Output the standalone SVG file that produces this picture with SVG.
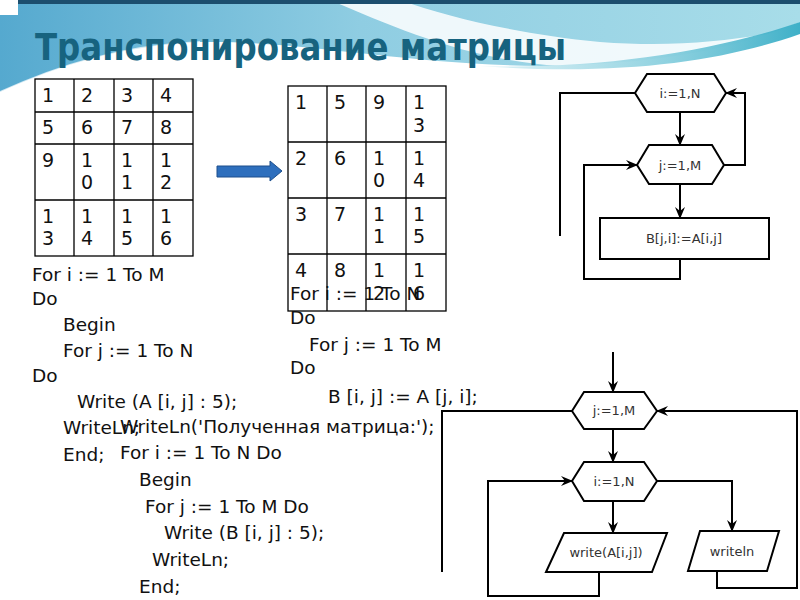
<svg xmlns="http://www.w3.org/2000/svg" width="800" height="600" viewBox="0 0 800 600">
<defs>
<linearGradient id="topg" x1="0" y1="0" x2="1" y2="0">
<stop offset="0" stop-color="#55a9cf"/>
<stop offset="0.45" stop-color="#8fcde2"/>
<stop offset="1" stop-color="#a8dde9"/>
</linearGradient>
<linearGradient id="teal" x1="0" y1="0" x2="1" y2="0">
<stop offset="0" stop-color="#8fd3e2" stop-opacity="0.3"/>
<stop offset="1" stop-color="#3fb0c8"/>
</linearGradient>
<marker id="ah" viewBox="0 0 12 10" refX="11" refY="5" markerWidth="12" markerHeight="10" markerUnits="userSpaceOnUse" orient="auto">
<path d="M0,0 L12,5 L0,10 L4,5 Z" fill="#000"/>
</marker>
<style>
.cell{fill:none;stroke:#000;stroke-width:1.3}
.num{font-family:"DejaVu Sans","Noto Sans",sans-serif;font-size:19px;fill:#111}
.code{font-family:"DejaVu Sans","Noto Sans",sans-serif;font-size:18.5px;fill:#111}
.shape{fill:#fff;stroke:#000;stroke-width:2}
.lbl{font-family:"DejaVu Sans","Noto Sans",sans-serif;font-size:13px;fill:#333;text-anchor:middle}
.con{fill:none;stroke:#000;stroke-width:2}
</style>
</defs>
<rect width="800" height="600" fill="#ffffff"/>
<!-- background header -->
<path d="M0,0 H800 V22 C720,55 640,64 540,66 C400,64 300,40 200,42 C120,46 60,65 0,92 Z" fill="url(#topg)"/>
<path d="M330,0 H400 C450,18 520,34 600,42 C680,48 740,40 800,28 V40 C730,62 640,70 560,66 C470,60 400,30 330,0 Z" fill="#ffffff" opacity="0.85"/>
<path d="M480,66 C600,70 720,50 800,22 V34 C720,62 620,76 480,66 Z" fill="url(#teal)"/>
<path d="M0,0 H800 V4 H0 Z" fill="#1c4e6e"/>
<rect x="0" y="0" width="18" height="15" fill="#ffffff"/>
<path d="M0,92 C60,65 120,46 200,42" fill="none" stroke="#ffffff" stroke-width="2" opacity="0.7"/>
<!-- title -->
<text id="title" x="35" y="60" font-family="DejaVu Sans Condensed, DejaVu Sans, sans-serif" font-weight="bold" font-size="38" fill="#17637f" textLength="531" lengthAdjust="spacingAndGlyphs">Транспонирование матрицы</text>

<!-- Matrix A -->
<g id="matrixA">
<rect class="cell" x="35" y="79" width="158" height="177"/>
<path class="cell" d="M74,79V256M114,79V256M153,79V256M35,112H193M35,144H193M35,200H193"/>
<text class="num" x="42" y="102">1</text><text class="num" x="81" y="102">2</text><text class="num" x="121" y="102">3</text><text class="num" x="160" y="102">4</text>
<text class="num" x="42" y="134">5</text><text class="num" x="81" y="134">6</text><text class="num" x="121" y="134">7</text><text class="num" x="160" y="134">8</text>
<text class="num" x="42" y="167">9</text>
<text class="num" x="81" y="167">1</text><text class="num" x="81" y="189">0</text>
<text class="num" x="121" y="167">1</text><text class="num" x="121" y="189">1</text>
<text class="num" x="160" y="167">1</text><text class="num" x="160" y="189">2</text>
<text class="num" x="42" y="223">1</text><text class="num" x="42" y="245">3</text>
<text class="num" x="81" y="223">1</text><text class="num" x="81" y="245">4</text>
<text class="num" x="121" y="223">1</text><text class="num" x="121" y="245">5</text>
<text class="num" x="160" y="223">1</text><text class="num" x="160" y="245">6</text>
</g>

<!-- block arrow -->
<g id="bigArrow">
<path d="M217,166 H270 V161 L282,171 L270,181 V177 H217 Z" fill="#2e6fbd" stroke="#1d4f8c" stroke-width="1"/>
</g>

<!-- Matrix B -->
<g id="matrixB">
<rect class="cell" x="288" y="86" width="158" height="225"/>
<path class="cell" d="M327,86V311M366,86V311M406,86V311M288,142H446M288,198H446M288,254H446"/>
<text class="num" x="295" y="109">1</text><text class="num" x="334" y="109">5</text><text class="num" x="373" y="109">9</text>
<text class="num" x="413" y="109">1</text><text class="num" x="413" y="132">3</text>
<text class="num" x="295" y="165">2</text><text class="num" x="334" y="165">6</text>
<text class="num" x="373" y="165">1</text><text class="num" x="373" y="187">0</text>
<text class="num" x="413" y="165">1</text><text class="num" x="413" y="187">4</text>
<text class="num" x="295" y="221">3</text><text class="num" x="334" y="221">7</text>
<text class="num" x="373" y="221">1</text><text class="num" x="373" y="243">1</text>
<text class="num" x="413" y="221">1</text><text class="num" x="413" y="243">5</text>
<text class="num" x="295" y="277">4</text><text class="num" x="334" y="277">8</text>
<text class="num" x="373" y="277">1</text><text class="num" x="373" y="300">2</text>
<text class="num" x="413" y="277">1</text><text class="num" x="413" y="300">6</text>
</g>

<!-- code 1 -->
<g id="code1">
<text class="code" x="32" y="281">For i := 1 To M</text>
<text class="code" x="32" y="305">Do</text>
<text class="code" x="63" y="331">Begin</text>
<text class="code" x="63" y="357">For j := 1 To N</text>
<text class="code" x="32" y="382">Do</text>
<text class="code" x="77" y="408">Write (A [i, j] : 5);</text>
<text class="code" x="63" y="434">WriteLn;</text>
<text class="code" x="63" y="461">End;</text>
</g>
<!-- code 2 -->
<g id="code2">
<text class="code" x="290" y="300">For i := 1 To N</text>
<text class="code" x="290" y="324">Do</text>
<text class="code" x="309" y="351">For j := 1 To M</text>
<text class="code" x="290" y="374">Do</text>
<text class="code" x="328" y="403">B [i, j] := A [j, i];</text>
</g>
<!-- code 3 -->
<g id="code3">
<text class="code" x="120" y="433">WriteLn('Полученная матрица:');</text>
<text class="code" x="120" y="459">For i := 1 To N Do</text>
<text class="code" x="139" y="486">Begin</text>
<text class="code" x="145" y="513">For j := 1 To M Do</text>
<text class="code" x="164" y="539">Write (B [i, j] : 5);</text>
<text class="code" x="152" y="566">WriteLn;</text>
<text class="code" x="139" y="593">End;</text>
</g>

<!-- flowchart 1 -->
<g id="f1-loopI">
<polygon class="shape" points="635,93 647,74 714,74 726,93 714,112 647,112"/>
<text class="lbl" x="680" y="98">i:=1,N</text>
</g>
<g id="f1-loopJ">
<polygon class="shape" points="637,165 649,145 712,145 724,165 712,184 649,184"/>
<text class="lbl" x="680" y="170">j:=1,M</text>
</g>
<g id="f1-assign">
<rect class="shape" x="600" y="218" width="169" height="41"/>
<text class="lbl" x="684" y="243">B[j,i]:=A[i,j]</text>
</g>

<!-- flowchart 2 -->
<g id="f2-loopJ">
<polygon class="shape" points="572,411 584,392 644,392 657,411 644,429 584,429"/>
<text class="lbl" x="614" y="415">j:=1,M</text>
</g>
<g id="f2-loopI">
<polygon class="shape" points="572,481 584,462 644,462 657,481 644,501 584,501"/>
<text class="lbl" x="614" y="486">i:=1,N</text>
</g>
<g id="f2-write">
<polygon class="shape" points="564,533 667,533 652,572 546,572"/>
<text class="lbl" x="606" y="557">write(A[i,j])</text>
</g>
<g id="f2-writeln">
<polygon class="shape" points="700,531 779,531 767,571 688,571"/>
<text class="lbl" x="732" y="556">writeln</text>
</g>

<g id="connectors">
<path class="con" d="M680,112 V145" marker-end="url(#ah)"/>
<path class="con" d="M680,184 V218" marker-end="url(#ah)"/>
<path class="con" d="M680,259 V279 H584 V165 H637" marker-end="url(#ah)"/>
<path class="con" d="M724,165 H745 V93 H726" marker-end="url(#ah)"/>
<path class="con" d="M635,93 H560 V236"/>

<path class="con" d="M613,352 V392" marker-end="url(#ah)"/>
<path class="con" d="M613,429 V462" marker-end="url(#ah)"/>
<path class="con" d="M613,501 V533" marker-end="url(#ah)"/>
<path class="con" d="M599,572 V596 H488 V481 H572" marker-end="url(#ah)"/>
<path class="con" d="M657,481 H732 V531" marker-end="url(#ah)"/>
<path class="con" d="M717,571 V588 H797 V411 H657" marker-end="url(#ah)"/>
<path class="con" d="M572,411 H442 V572"/>
</g>
</svg>
